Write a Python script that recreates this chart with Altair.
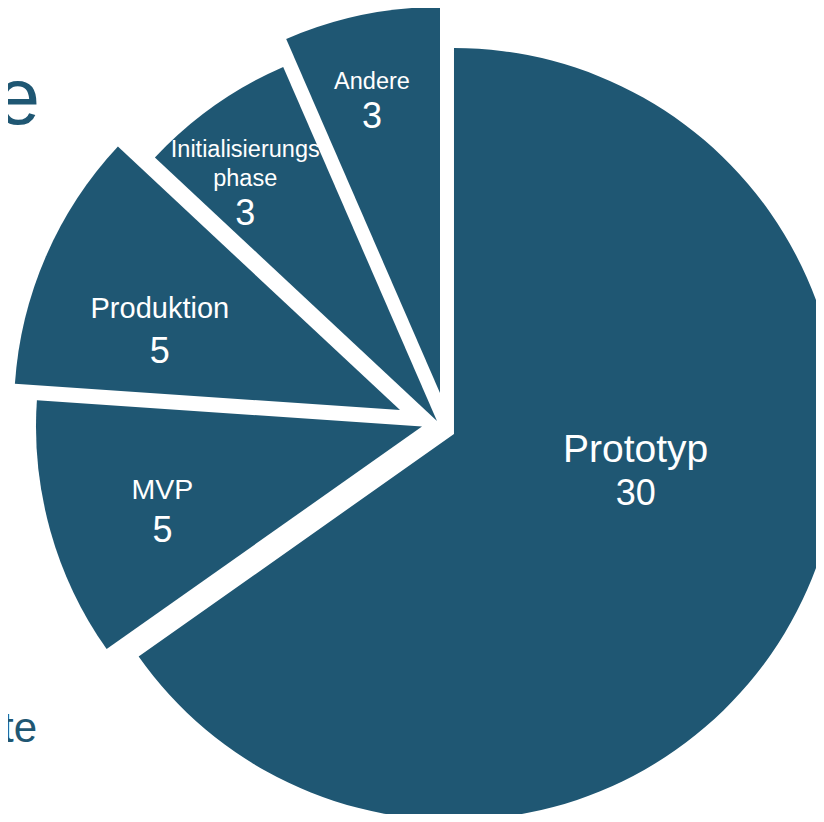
import altair as alt
import pandas as pd

# ---------------- data ----------------
categories = ["Prototyp", "MVP", "Produktion", "Initialisierungsphase", "Andere"]
values = [30, 5, 5, 3, 3]
label_text = ["Prototyp", "MVP", "Produktion", "Initialisierungs\nphase", "Andere"]
title_fragments = ["e", "te"]   # ends of slide text cut off at the left edge

# ---------------- style ----------------
FILL = "#1F5773"
FONT = "Liberation Sans"
CX, CY = 434.0, 417.4          # pie centre (px, plot coordinates)
RADIUS = 386
explode = [14.76, 20.03, 44.7, 6.66, 32.46]    # explosion distance (px)
explode_dev = [8.3, 12.5, -3.4, -13.5, 8.2]    # explosion direction offset from bisector (deg)
label_radius = [197, 289, 302, 333, 344]       # label distance from centre (px)
label_shift = [-16.8, 1.0, -2.6, -1.0, 0.0]    # label angle offset (deg)
name_size = [39, 28.5, 29, 23.5, 23.5]
value_dy = [43.3, 43.4, 45, 68.3, 39.4]
VALUE_SIZE = 36

df = pd.DataFrame({
    "cat": categories,
    "value": values,
    "label": label_text,
    "order": list(range(len(categories))),
    "explode": explode,
    "edev": explode_dev,
    "lr": label_radius,
    "shift": label_shift,
    "nsize": name_size,
    "vdy": value_dy,
})

base = (
    alt.Chart(df)
    .transform_window(cum="sum(value)", sort=[alt.SortField("order")], frame=[None, 0])
    .transform_joinaggregate(total="sum(value)")
    .transform_calculate(
        t0="2*PI*(datum.cum - datum.value)/datum.total",
        t1="2*PI*datum.cum/datum.total",
    )
    .transform_calculate(mid="(datum.t0 + datum.t1)/2")
    .transform_calculate(
        px=f"{CX} + datum.explode*sin(datum.mid + datum.edev*PI/180)",
        py=f"{CY} - datum.explode*cos(datum.mid + datum.edev*PI/180)",
        lx=f"{CX} + datum.lr*sin(datum.mid + datum.shift*PI/180)",
        ly=f"{CY} - datum.lr*cos(datum.mid + datum.shift*PI/180)",
    )
    .transform_calculate(vy="datum.ly + datum.vdy")
)

arcs = base.mark_arc(radius=RADIUS, fill=FILL, strokeWidth=0).encode(
    theta=alt.Theta("t0:Q", scale=None, stack=None),
    theta2="t1:Q",
    x=alt.X("px:Q", scale=None, axis=None),
    y=alt.Y("py:Q", scale=None, axis=None),
)

names = base.mark_text(
    color="white", font=FONT, align="center", baseline="alphabetic",
    lineBreak="\n", lineHeight=29.3,
).encode(
    x=alt.X("lx:Q", scale=None, axis=None),
    y=alt.Y("ly:Q", scale=None, axis=None),
    text="label:N",
    size=alt.Size("nsize:Q", scale=None, legend=None),
)

vals = base.mark_text(
    color="white", font=FONT, align="center", baseline="alphabetic", fontSize=VALUE_SIZE,
).encode(
    x=alt.X("lx:Q", scale=None, axis=None),
    y=alt.Y("vy:Q", scale=None, axis=None),
    text=alt.Text("value:Q", format="d"),
)

frag1 = alt.Chart(pd.DataFrame({"t": [title_fragments[0]]})).mark_text(
    color=FILL, font=FONT, fontSize=80, align="right", baseline="alphabetic"
).encode(x=alt.value(32), y=alt.value(116), text="t:N")

frag2 = alt.Chart(pd.DataFrame({"t": [title_fragments[1]]})).mark_text(
    color=FILL, font=FONT, fontSize=42, align="right", baseline="alphabetic"
).encode(x=alt.value(29), y=alt.value(733.7), text="t:N")

chart = (
    alt.layer(arcs, names, vals, frag1, frag2)
    .properties(width=808, height=806, autosize=alt.AutoSizeParams(type="none"), padding=0)
    .configure_view(stroke=None)
)

chart.save("out.html", embed_options={"renderer": "svg", "actions": False})
